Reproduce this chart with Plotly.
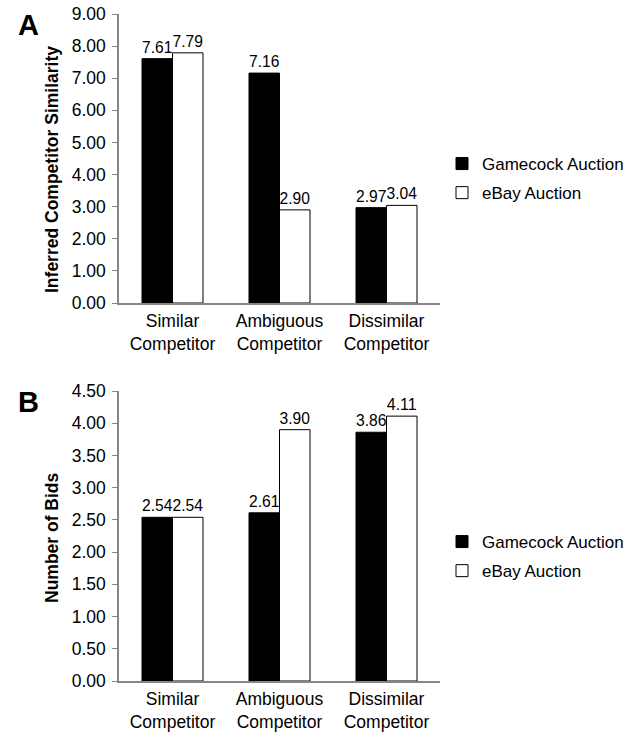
import plotly.graph_objects as go

categories = ["Similar<br>Competitor", "Ambiguous<br>Competitor", "Dissimilar<br>Competitor"]
series_names = ["Gamecock Auction", "eBay Auction"]
similarity_gamecock = [7.61, 7.16, 2.97]
similarity_ebay = [7.79, 2.90, 3.04]
bids_gamecock = [2.54, 2.61, 3.86]
bids_ebay = [2.54, 3.90, 4.11]
sim_ticks = [0, 1, 2, 3, 4, 5, 6, 7, 8, 9]
bid_ticks = [0, 0.5, 1, 1.5, 2, 2.5, 3, 3.5, 4, 4.5]

W, H = 637, 732
FONT = "Liberation Sans, Arial, sans-serif"
AX = "#868686"

def px(x):
    return x / W

def py(y):
    return 1 - y / H

fig = go.Figure()

def add_pair(gvals, evals, xa, ya, legend):
    fig.add_trace(go.Bar(
        x=categories, y=gvals, name=series_names[0], xaxis=xa, yaxis=ya,
        marker=dict(color="black", line=dict(color="black", width=1)),
        texttemplate="%{y:.2f}", textposition="outside", cliponaxis=False,
        textfont=dict(size=16, color="black", family=FONT), legend=legend,
        legendgroup=legend + "g",
    ))
    fig.add_trace(go.Bar(
        x=categories, y=evals, name=series_names[1], xaxis=xa, yaxis=ya,
        marker=dict(color="white", line=dict(color="black", width=1)),
        texttemplate="%{y:.2f}", textposition="outside", cliponaxis=False,
        textfont=dict(size=16, color="black", family=FONT), legend=legend,
        legendgroup=legend + "e",
    ))

add_pair(similarity_gamecock, similarity_ebay, "x", "y", "legend")
add_pair(bids_gamecock, bids_ebay, "x2", "y2", "legend2")

xdom = [px(119), px(440)]
common_x = dict(
    domain=xdom, showline=True, linecolor=AX, linewidth=1.5, ticks="",
    tickfont=dict(size=17.5, color="black", family=FONT), showgrid=False,
    automargin=False, ticklabelstandoff=1,
)
common_y = dict(
    showline=True, linecolor=AX, linewidth=1.5, ticks="outside", ticklen=5,
    tickcolor=AX, tickfont=dict(size=17.5, color="black", family=FONT),
    showgrid=False, zeroline=False, tickformat=".2f", ticklabelstandoff=3,
    automargin=False,
)

fig.update_layout(
    width=W, height=H, autosize=False,
    margin=dict(l=0, r=0, t=0, b=0, pad=0),
    paper_bgcolor="white", plot_bgcolor="white",
    barmode="group", bargap=0.43, bargroupgap=0,
    font=dict(family=FONT, color="black"),
    xaxis=dict(**common_x, anchor="y"),
    yaxis=dict(**common_y, domain=[py(303), py(14)], range=[0, 9],
               tickvals=sim_ticks, anchor="x"),
    xaxis2=dict(**common_x, anchor="y2"),
    yaxis2=dict(**common_y, domain=[py(681), py(391)], range=[0, 4.5],
                tickvals=bid_ticks, anchor="x2"),
    legend=dict(x=px(442), y=py(146), xanchor="left", yanchor="top",
                font=dict(size=17, family=FONT), bgcolor="rgba(0,0,0,0)",
                tracegroupgap=4, itemclick=False),
    legend2=dict(x=px(442), y=py(524), xanchor="left", yanchor="top",
                 font=dict(size=17, family=FONT), bgcolor="rgba(0,0,0,0)",
                 tracegroupgap=4, itemclick=False),
    showlegend=True,
    annotations=[
        dict(text="<b>A</b>", x=px(16), y=py(25), xref="paper", yref="paper",
             xanchor="left", yanchor="middle", showarrow=False,
             font=dict(size=29, family=FONT)),
        dict(text="<b>B</b>", x=px(16), y=py(402), xref="paper", yref="paper",
             xanchor="left", yanchor="middle", showarrow=False,
             font=dict(size=29, family=FONT)),
        dict(text="<b>Inferred Competitor Similarity</b>", x=px(52), y=py(170),
             xref="paper", yref="paper", xanchor="center", yanchor="middle",
             textangle=-90, showarrow=False, font=dict(size=17.5, family=FONT)),
        dict(text="<b>Number of Bids</b>", x=px(52), y=py(537),
             xref="paper", yref="paper", xanchor="center", yanchor="middle",
             textangle=-90, showarrow=False, font=dict(size=17.5, family=FONT)),
    ],
)

fig.write_html(
    "out.html",
    config={"displayModeBar": False},
    post_script="document.body.style.margin='0';document.body.style.padding='0';",
)
